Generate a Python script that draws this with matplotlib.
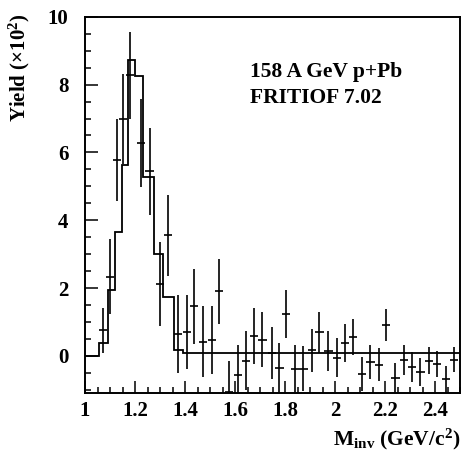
import matplotlib
matplotlib.use('Agg')
import matplotlib.pyplot as plt

plt.rcParams['font.family'] = ['Liberation Serif', 'DejaVu Serif']
plt.rcParams['font.weight'] = 'bold'
plt.rcParams['mathtext.fontset'] = 'custom'
plt.rcParams['mathtext.rm'] = 'Liberation Serif:bold'
plt.rcParams['mathtext.it'] = 'Liberation Serif:bold'
plt.rcParams['mathtext.bf'] = 'Liberation Serif:bold'

# measured data points (M_inv in GeV/c^2, yield x10^2, error)
mass = [1.073, 1.100, 1.127, 1.153, 1.180, 1.223, 1.258, 1.300, 1.332,
        1.373, 1.407, 1.437, 1.473, 1.507, 1.537, 1.577, 1.611, 1.644,
        1.676, 1.709, 1.747, 1.777, 1.804, 1.840, 1.873, 1.907, 1.937,
        1.973, 2.007, 2.040, 2.071, 2.107, 2.141, 2.175, 2.204, 2.241,
        2.275, 2.308, 2.341, 2.375, 2.408, 2.444, 2.475]
yield_data = [0.75, 2.34, 5.78, 6.98, 8.27, 6.29, 5.44, 2.12, 3.55,
              0.65, 0.70, 1.46, 0.42, 0.46, 1.90, -1.06, -0.56, -0.15,
              0.58, 0.47, 0.08, -0.35, 1.23, -0.38, -0.38, 0.16, 0.69,
              0.13, -0.05, 0.38, 0.56, -0.53, -0.18, -0.26, 0.90, -0.66,
              -0.13, -0.33, -0.48, -0.14, -0.24, -0.69, -0.12]
yield_err = [0.67, 1.10, 1.22, 1.33, 1.28, 1.30, 1.28, 1.25, 1.20,
             1.15, 1.10, 1.10, 1.05, 1.00, 0.97, 0.92, 0.87, 0.87,
             0.83, 0.81, 0.76, 0.74, 0.71, 0.70, 0.66, 0.64, 0.60,
             0.59, 0.58, 0.56, 0.53, 0.50, 0.50, 0.48, 0.47, 0.46,
             0.44, 0.43, 0.41, 0.41, 0.39, 0.40, 0.37]

# FRITIOF histogram
hist_edges = [1.0, 1.056, 1.090, 1.120, 1.149, 1.170, 1.200, 1.233,
              1.277, 1.313, 1.357, 1.393, 2.5]
hist_vals = [0.0, 0.37, 1.93, 3.64, 5.63, 8.73, 8.24, 5.29, 3.00,
             1.75, 0.16, 0.08]

xtick_vals = [1.0, 1.2, 1.4, 1.6, 1.8, 2.0, 2.2, 2.4]
xtick_labels = ['1', '1.2', '1.4', '1.6', '1.8', '2', '2.2', '2.4']
ytick_vals = [0, 2, 4, 6, 8, 10]
ytick_labels = ['0', '2', '4', '6', '8', '10']

fig = plt.figure(figsize=(4.62, 4.55), dpi=100)
ax = fig.add_axes([0.184, 0.136, 0.812, 0.827])

ax.stairs(hist_vals, hist_edges, color='black', lw=1.3, baseline=None)
ax.errorbar(mass, yield_data, yerr=yield_err, xerr=0.0167, fmt='none',
            ecolor='black', elinewidth=1.2, capsize=0)

ax.set_xlim(1.0, 2.5)
ax.set_ylim(-1.1, 10)
ax.set_xticks(xtick_vals, xtick_labels)
ax.set_yticks(ytick_vals, ytick_labels)
ax.set_xticks([1 + 0.05 * i for i in range(31)], minor=True)
ax.set_yticks([-1 + 0.5 * i for i in range(23)], minor=True)
ax.tick_params(which='both', direction='in', top=False, right=False,
               width=1.1, labelsize=15)
ax.tick_params(which='major', length=9)
ax.tick_params(which='minor', length=4.5)
ax.tick_params(axis='y', pad=12)
ax.tick_params(axis='x', pad=6)
for s in ax.spines.values():
    s.set_linewidth(1.4)

ax.text(1.66, 8.38, '158 A GeV p+Pb', fontsize=15.5, fontweight='bold',
        va='center', ha='left')
ax.text(1.66, 7.62, 'FRITIOF 7.02', fontsize=15.5, fontweight='bold',
        va='center', ha='left')

fig.text(0.043, 0.852, r'Yield ($\times$10$^{2}$)', rotation=90,
         fontsize=15, fontweight='bold', ha='center', va='center')
fig.text(0.997, 0.035, r'M$_{\rm inv}$ (GeV/c$^{2}$)', fontsize=15.5,
         fontweight='bold', ha='right', va='center')

fig.savefig('out.png', dpi=100)
